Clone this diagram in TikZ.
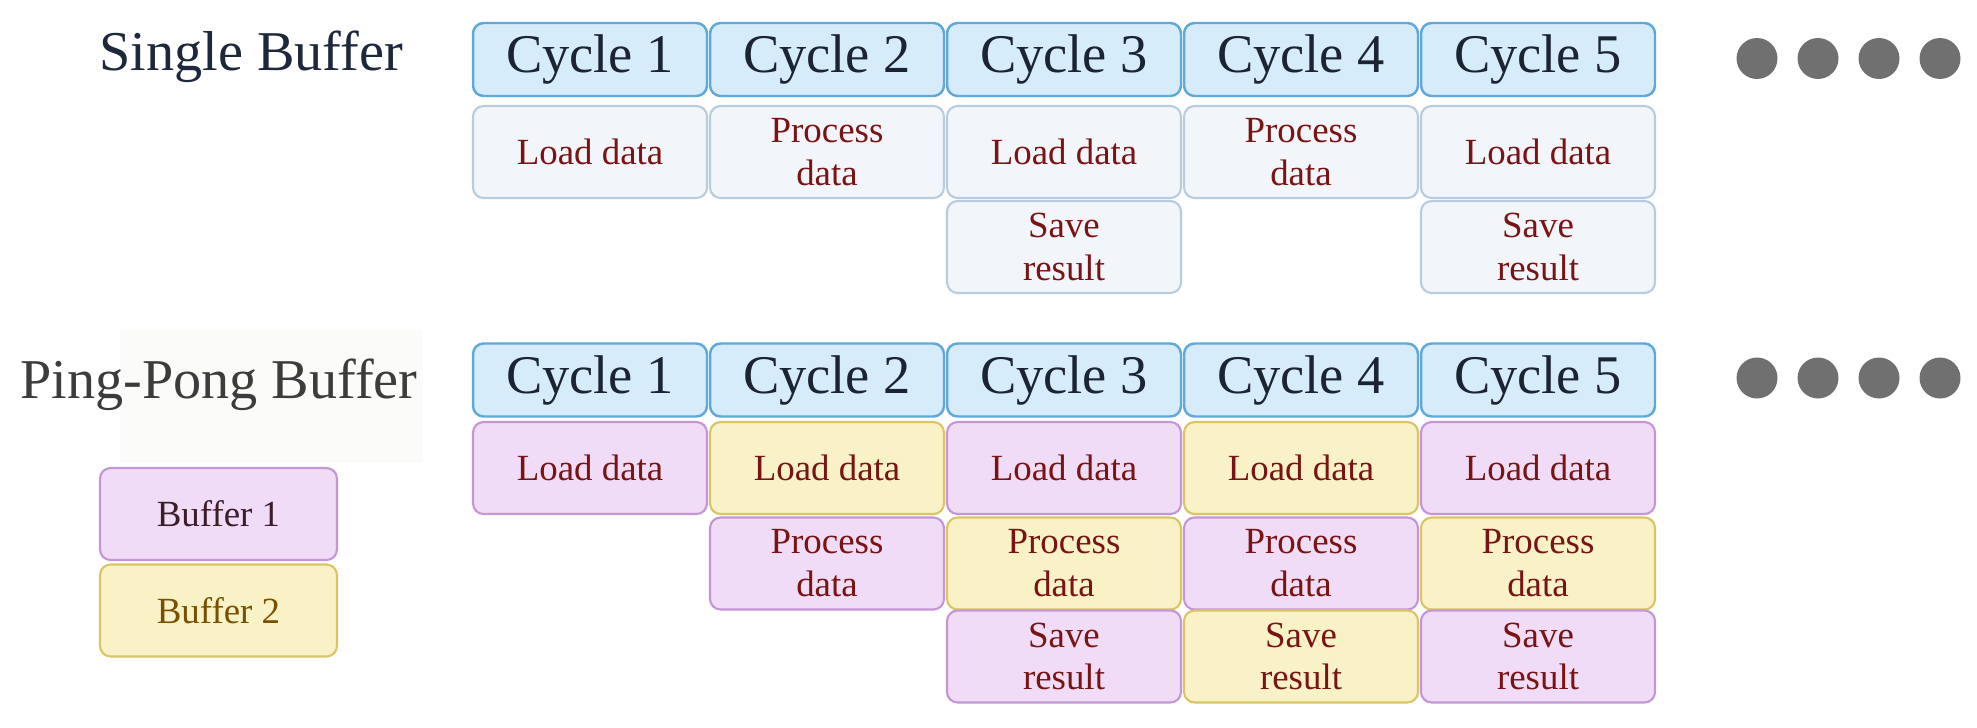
\documentclass[tikz,border=0pt]{standalone}
\usepackage{fontspec}
\setmainfont{Liberation Serif}
\definecolor{cyclefill}{RGB}{214,236,250}
\definecolor{cycleline}{RGB}{95,168,216}
\definecolor{cycletext}{RGB}{28,36,52}
\definecolor{sbfill}{RGB}{242,246,251}
\definecolor{sbline}{RGB}{184,204,224}
\definecolor{bufone}{RGB}{240,220,246}
\definecolor{bufoneline}{RGB}{196,150,214}
\definecolor{buftwo}{RGB}{248,242,198}
\definecolor{buftwoline}{RGB}{218,196,100}
\definecolor{tasktext}{RGB}{122,20,20}
\definecolor{dotgrey}{RGB}{112,112,112}
\definecolor{sbtitle}{RGB}{30,40,60}
\definecolor{pptitle}{RGB}{60,60,60}
\definecolor{ppshade}{RGB}{251,251,249}
\definecolor{legonetext}{RGB}{60,30,40}
\definecolor{legtwotext}{RGB}{120,80,0}
\tikzset{
	cyclebox/.style={draw=cycleline,fill=cyclefill,line width=1.4pt,rounded corners=6pt,
		minimum width=4.68cm,minimum height=1.46cm,inner sep=0pt,text=cycletext,
		font=\fontsize{31}{37}\selectfont},
	taskbox/.style={line width=1.2pt,rounded corners=6pt,minimum width=4.68cm,
		minimum height=1.84cm,inner sep=0pt,align=center,text=tasktext,
		font=\fontsize{21}{24.4}\selectfont},
	sbtask/.style={taskbox,draw=sbline,fill=sbfill},
	bufa/.style={taskbox,draw=bufoneline,fill=bufone},
	bufb/.style={taskbox,draw=buftwoline,fill=buftwo}
}
\begin{document}
\begin{tikzpicture}[x=0.02cm,y=-0.02cm]
	\useasboundingbox (0,0) rectangle (1977,727);
	\def\colx{590} \def\colstep{237}
	
	% single buffer
	\node[text=sbtitle,font=\fontsize{32}{38}\selectfont] (sbname) at (251,57) {Single Buffer};
	\foreach \i in {1,...,5}
	\node[cyclebox] (sbc\i) at ({\colx+\colstep*(\i-1)},59.5) {Cycle \i};
	\node[sbtask] (sbload1) at ({\colx},152) {Load data};
	\node[sbtask] (sbproc2) at ({\colx+\colstep},152) {Process\\data};
	\node[sbtask] (sbload3) at ({\colx+2*\colstep},152) {Load data};
	\node[sbtask] (sbsave3) at ({\colx+2*\colstep},247) {Save\\result};
	\node[sbtask] (sbproc4) at ({\colx+3*\colstep},152) {Process\\data};
	\node[sbtask] (sbload5) at ({\colx+4*\colstep},152) {Load data};
	\node[sbtask] (sbsave5) at ({\colx+4*\colstep},247) {Save\\result};
	
	% ping-pong buffer
	\fill[ppshade] (120,330) rectangle (423,463);
	\node[text=pptitle,font=\fontsize{32}{38}\selectfont] (ppname) at (219,385) {Ping-Pong Buffer};
	\foreach \i in {1,...,5}
	\node[cyclebox] (ppc\i) at ({\colx+\colstep*(\i-1)},380) {Cycle \i};
	\foreach \i/\st in {1/bufa,2/bufb,3/bufa,4/bufb,5/bufa}
	\node[\st] (ppload\i) at ({\colx+\colstep*(\i-1)},468) {Load data};
	\foreach \i/\st in {2/bufa,3/bufb,4/bufa,5/bufb}
	\node[\st] (ppproc\i) at ({\colx+\colstep*(\i-1)},563.5) {Process\\data};
	\foreach \i/\st in {3/bufa,4/bufb,5/bufa}
	\node[\st] (ppsave\i) at ({\colx+\colstep*(\i-1)},656.5) {Save\\result};
	
	% legend
	\node[bufa,text=legonetext,minimum width=4.74cm] (legone) at (218.5,514) {Buffer 1};
	\node[bufb,text=legtwotext,minimum width=4.74cm] (legtwo) at (218.5,610.5) {Buffer 2};
	
	% more cycles
	\foreach \d in {0,...,3}
	{\fill[dotgrey] ({1757+61*\d},58.5) circle (0.41cm);
		\fill[dotgrey] ({1757+61*\d},378) circle (0.41cm);}
\end{tikzpicture}
\end{document}
